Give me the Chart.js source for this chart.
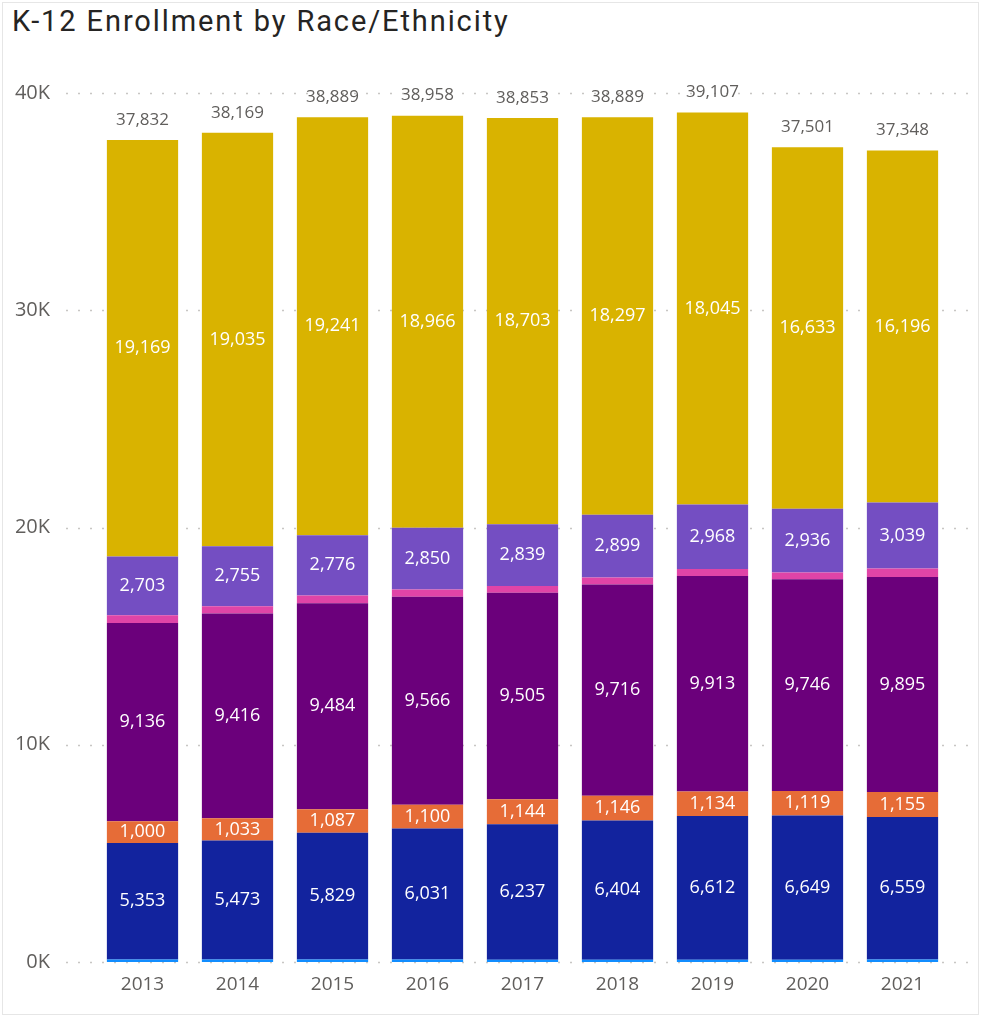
<!DOCTYPE html>
<html>
<head>
<meta charset="utf-8">
<script src="https://cdn.jsdelivr.net/npm/chart.js@4.4.1/dist/chart.umd.min.js"></script>
<style>
  body { margin: 0; background: #fff; }
  .wrap { position: relative; width: 985px; height: 1019px; }
  .frame { position: absolute; left: 2px; top: 2px; width: 977px; height: 1013px; border: 1px solid #e6e6e6; box-sizing: border-box; pointer-events: none; }
  h1 { position: absolute; left: 12px; top: 4px; margin: 0; font: 400 29px "Roboto", sans-serif; color: #252423; letter-spacing: 1.9px; }
  canvas { position: absolute; left: 0; top: 0; }
</style>
</head>
<body>
<div class="wrap">
  <h1>K-12 Enrollment by Race/Ethnicity</h1>
  <canvas id="chart" width="985" height="1019"></canvas>
  <div class="frame"></div>
</div>
<script>
var years = ["2013", "2014", "2015", "2016", "2017", "2018", "2019", "2020", "2021"];
var lightBlue = [120, 115, 115, 110, 105, 105, 105, 100, 110];
var darkBlue = [5353, 5473, 5829, 6031, 6237, 6404, 6612, 6649, 6559];
var orange = [1000, 1033, 1087, 1100, 1144, 1146, 1134, 1119, 1155];
var darkPurple = [9136, 9416, 9484, 9566, 9505, 9716, 9913, 9746, 9895];
var pink = [351, 342, 357, 335, 320, 322, 330, 318, 394];
var midPurple = [2703, 2755, 2776, 2850, 2839, 2899, 2968, 2936, 3039];
var gold = [19169, 19035, 19241, 18966, 18703, 18297, 18045, 16633, 16196];
var totals = [37832, 38169, 38889, 38958, 38853, 38889, 39107, 37501, 37348];
var yTicks = [0, 10000, 20000, 30000, 40000];

var fmt = function(v){ return v.toLocaleString("en-US"); };

// dotted gridlines across the full visual width
var dotGrid = {
    id: "dotGrid",
    beforeDatasetsDraw: function(chart){
        var ctx = chart.ctx, y = chart.scales.y;
        ctx.save();
        ctx.strokeStyle = "#c8c6c4";
        ctx.lineWidth = 1.5;
        ctx.setLineDash([2, 10]);
        yTicks.forEach(function(t){
            var py = Math.round(y.getPixelForValue(t)) + 0.5;
            ctx.beginPath();
            ctx.moveTo(66, py);
            ctx.lineTo(976, py);
            ctx.stroke();
        });
        ctx.restore();
    }
};

// segment values + totals
var barLabels = {
    id: "barLabels",
    afterDatasetsDraw: function(chart){
        var ctx = chart.ctx;
        ctx.save();
        ctx.textAlign = "center";
        ctx.textBaseline = "middle";
        ctx.font = "18px 'Open Sans', sans-serif";
        ctx.fillStyle = "#ffffff";
        chart.data.datasets.forEach(function(ds, i){
            if (!ds.showLabel) return;
            chart.getDatasetMeta(i).data.forEach(function(bar, j){
                var mid = (bar.y + bar.base) / 2;
                ctx.fillText(fmt(ds.data[j]), bar.x, mid);
            });
        });
        ctx.fillStyle = "#605e5c";
        ctx.font = "17px 'Open Sans', sans-serif";
        var y = chart.scales.y, x = chart.scales.x;
        totals.forEach(function(t, j){
            ctx.fillText(fmt(t), x.getPixelForValue(j), y.getPixelForValue(t) - 20);
        });
        ctx.restore();
    }
};

function series(label, data, color, showLabel){
    return { label: label, data: data, backgroundColor: color, showLabel: showLabel,
             barPercentage: 0.75, categoryPercentage: 1.0 };
}

new Chart(document.getElementById("chart"), {
    type: "bar",
    data: {
        labels: years,
        datasets: [
            series("Other", lightBlue, "#118dff", false),
            series("Asian", darkBlue, "#12239e", true),
            series("Black", orange, "#e66c37", true),
            series("Hispanic", darkPurple, "#6b007b", true),
            series("Pacific Islander", pink, "#e044a7", false),
            series("Two or More", midPurple, "#744ec2", true),
            series("White", gold, "#d9b300", true)
        ]
    },
    options: {
        responsive: false,
        animation: false,
        layout: { padding: { top: 93, right: 35, left: 0, bottom: 0 } },
        plugins: { legend: { display: false }, tooltip: { enabled: false } },
        scales: {
            x: {
                stacked: true,
                grid: { display: false, drawTicks: false },
                border: { display: false },
                ticks: { color: "#605e5c", font: { size: 19, family: "'Open Sans', sans-serif" }, padding: 11 },
                afterFit: function(s){ s.height = 57; }
            },
            y: {
                stacked: true,
                min: 0,
                max: 40000,
                grid: { display: false, drawTicks: false },
                border: { display: false },
                afterBuildTicks: function(s){ s.ticks = yTicks.map(function(v){ return { value: v }; }); },
                ticks: {
                    color: "#605e5c",
                    font: { size: 20, family: "'Open Sans', sans-serif" },
                    padding: 45,
                    callback: function(v){ return (v / 1000) + "K"; }
                },
                afterFit: function(s){ s.width = 95; }
            }
        }
    },
    plugins: [dotGrid, barLabels]
});
</script>
</body>
</html>
